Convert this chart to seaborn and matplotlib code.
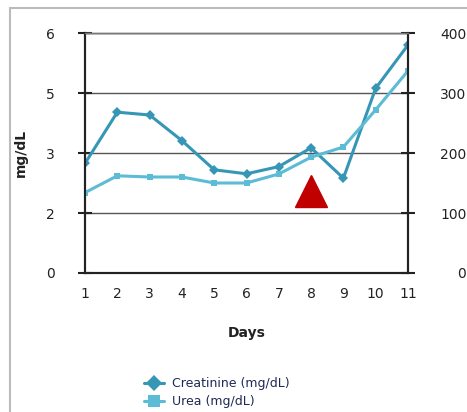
import matplotlib
matplotlib.use("Agg")
import matplotlib.pyplot as plt
import seaborn as sns
import pandas as pd
from matplotlib.patches import Rectangle

# values
days = [1, 2, 3, 4, 5, 6, 7, 8, 9, 10, 11]
creatinine = [2.74, 4.02, 3.95, 3.31, 2.58, 2.48, 2.66, 3.13, 2.37, 4.62, 5.70]  # left axis
urea = [134, 162, 160, 160, 150, 150, 165, 193, 210, 272, 337]  # right axis
event_day = [8]
event_level = [2.04]

left_ticks = [0, 1.5, 3, 4.5, 6]
left_labels = ["0", "2", "3", "5", "6"]
right_ticks = [0, 100, 200, 300, 400]

df = pd.DataFrame({"Days": days, "Creatinine": creatinine, "Urea": urea})

sns.set_style("white")
plt.rcParams["font.family"] = ["DejaVu Sans"]

fig = plt.figure(figsize=(4.67, 4.12), dpi=100)
ax = fig.add_axes([85 / 467, 1 - 273 / 412, (408 - 85) / 467, 240 / 412])
ax2 = ax.twinx()

c_col = "#3596b5"
u_col = "#5cbbd5"

sns.lineplot(data=df, x="Days", y="Creatinine", ax=ax, color=c_col, marker="D",
             markersize=5, markeredgewidth=0, linewidth=2.2, label="Creatinine (mg/dL)", legend=False)
sns.lineplot(data=df, x="Days", y="Urea", ax=ax2, color=u_col, marker="s",
             markersize=5, markeredgewidth=0, linewidth=2.2, label="Urea (mg/dL)", legend=False)
ax.plot(event_day, event_level, marker="^", color="#c00000", markersize=23, linestyle="none", zorder=5)

ax.set_xlim(1, 11)
ax.set_ylim(0, 6)
ax2.set_ylim(0, 400)
ax.set_xticks(days)
ax.set_yticks(left_ticks)
ax.set_yticklabels(left_labels)
ax2.set_yticks(right_ticks)
ax.grid(axis="y", color="#555555", linewidth=1)
ax.grid(axis="x", visible=False)

for a in (ax, ax2):
    for s in a.spines.values():
        s.set_color("#222222")
        s.set_linewidth(1.5)
    a.spines["top"].set_color("#777777")
    a.spines["top"].set_linewidth(1)

ax.tick_params(axis="y", direction="inout", length=10, width=1.5, color="#222222",
               pad=17, labelsize=10, labelcolor="#222222")
ax.tick_params(axis="x", length=0, pad=10, labelsize=10, labelcolor="#222222")
ax2.tick_params(axis="y", direction="inout", length=10, width=1.5, color="#222222",
                pad=37, labelsize=10, labelcolor="#222222")
for t in ax2.yaxis.get_major_ticks():
    t.label2.set_horizontalalignment("right")

ax.set_xlabel("Days", fontsize=10, fontweight="bold", color="#222222", labelpad=18)
ax.set_ylabel("mg/dL", fontsize=10, fontweight="bold", color="#222222")
ax.yaxis.set_label_coords(-0.176, 0.5)
ax2.set_ylabel("")

h1, l1 = ax.get_legend_handles_labels()
h2, l2 = ax2.get_legend_handles_labels()
fig.legend(h1 + h2, l1 + l2, loc="center left", bbox_to_anchor=(133 / 467, 1 - 393 / 412),
           frameon=False, fontsize=9, labelspacing=0.4, handlelength=1.6, handletextpad=0.6,
           markerscale=1.6, labelcolor="#1f2a55")

fig.patches.append(Rectangle((10 / 467, -0.1), 1.2, 1 - 8 / 412 + 0.1, transform=fig.transFigure,
                             fill=False, edgecolor="#bbbbbb", linewidth=1.5))

fig.savefig("out.png", dpi=100)
